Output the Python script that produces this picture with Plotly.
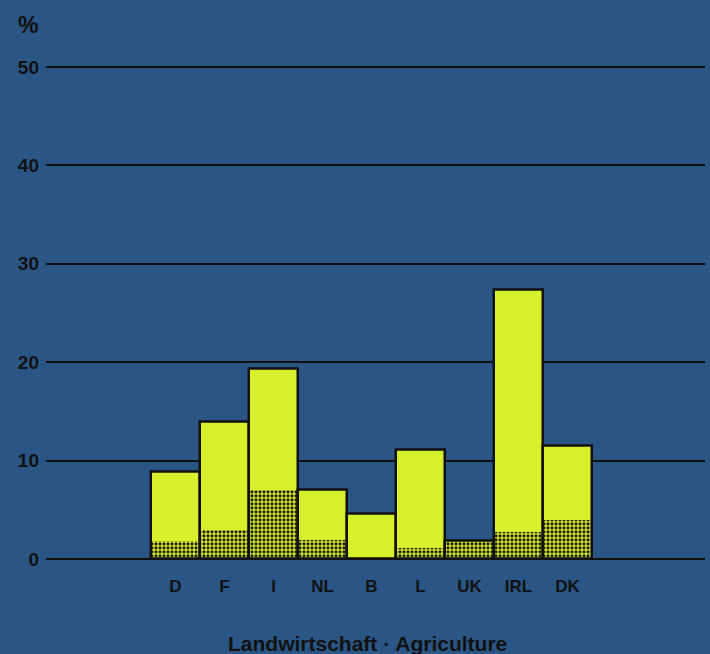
import plotly.graph_objects as go

countries = ["D", "F", "I", "NL", "B", "L", "UK", "IRL", "DK"]
total_pct = [8.9, 13.9, 19.3, 7.0, 4.6, 11.1, 1.9, 27.4, 11.5]
dotted_pct = [1.9, 3.0, 7.0, 2.0, 0.0, 1.1, 1.9, 2.8, 4.0]
y_ticks = [0, 10, 20, 30, 40, 50]
title_text = "Landwirtschaft · Agriculture"

BLUE = "#2a5686"
YELLOW = "#d6f02c"
W, H = 710, 654

# pixel geometry
x_left, x_right = 46, 705
y_zero, y_fifty = 559, 67
ppu = (y_zero - y_fifty) / 50.0
y_min, y_max = -1.5, 55
y_bot_px = y_zero - y_min * ppu
y_top_px = y_fifty - (y_max - 50) * ppu

bar_left, bar_right = 151, 592
bar_w = (bar_right - bar_left) / len(countries)
c0 = bar_left + bar_w / 2
x_min = (x_left - c0) / bar_w
x_max = (x_right - c0) / bar_w

idx = list(range(len(countries)))

fig = go.Figure()
fig.add_trace(go.Bar(x=idx, y=total_pct, width=1,
                     marker=dict(color=YELLOW, line=dict(width=0)),
                     hoverinfo="skip"))
fig.add_trace(go.Bar(x=idx, y=dotted_pct, width=1,
                     marker=dict(color=YELLOW, line=dict(width=0),
                                 pattern=dict(shape=".", fgcolor="#111111",
                                              bgcolor=YELLOW, size=4,
                                              solidity=0.47, fillmode="replace",
                                              fgopacity=1)),
                     hoverinfo="skip"))
fig.add_trace(go.Bar(x=idx, y=total_pct, width=1,
                     marker=dict(color="rgba(0,0,0,0)",
                                 line=dict(color="#111111", width=2.5)),
                     hoverinfo="skip"))

fig.update_layout(
    width=W, height=H,
    margin=dict(l=0, r=0, t=0, b=0),
    paper_bgcolor=BLUE, plot_bgcolor=BLUE,
    barmode="overlay", bargap=0,
    showlegend=False,
    font=dict(family="Liberation Sans, Arial, sans-serif", color="#111111"),
    xaxis=dict(domain=[x_left / W, x_right / W], range=[x_min, x_max],
               tickvals=idx, ticktext=countries, showgrid=False,
               zeroline=False, showline=False, ticks="",
               tickfont=dict(size=17, weight="bold", color="#111111"),
               ticklabelstandoff=0),
    yaxis=dict(domain=[(H - y_bot_px) / H, (H - y_top_px) / H],
               range=[y_min, y_max], tickvals=y_ticks,
               ticktext=[str(v) for v in y_ticks],
               showgrid=True, gridcolor="#111111", gridwidth=2,
               zeroline=False, showline=False, ticks="",
               tickfont=dict(size=19, weight="bold", color="#111111"),
               ticklabelstandoff=6),
    annotations=[
        dict(text=title_text, x=367 / W, y=(H - 643) / H, xref="paper",
             yref="paper", showarrow=False, xanchor="center", yanchor="middle",
             font=dict(size=21, weight="bold", color="#111111")),
        dict(text="%", x=28 / W, y=(H - 25) / H, xref="paper", yref="paper",
             showarrow=False, xanchor="center", yanchor="middle",
             font=dict(size=23, weight="bold", color="#111111")),
    ],
)

fig.write_html("out.html", config={"displayModeBar": False},
               post_script="document.body.style.margin='0';document.body.style.background='" + BLUE + "';")
